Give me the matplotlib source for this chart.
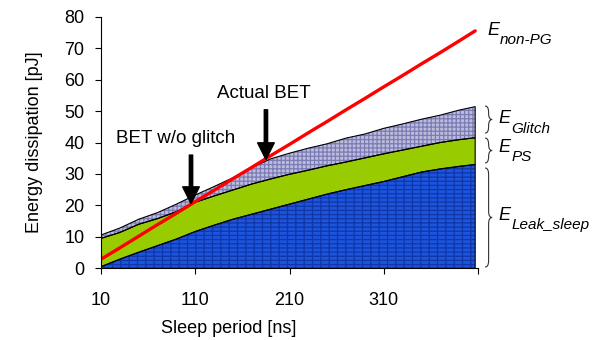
import matplotlib
matplotlib.use("Agg")
import matplotlib.pyplot as plt
import numpy as np
from matplotlib.path import Path
from matplotlib.patches import PathPatch

plt.rcParams["font.family"] = ["Liberation Sans", "DejaVu Sans"]
plt.rcParams["hatch.linewidth"] = 0.9

# sleep period [ns]
sleep_ns = [10, 30, 50, 70, 90, 110, 130, 150, 170, 190, 210,
            230, 250, 270, 290, 310, 330, 350, 370, 390, 407]
# stacked energy components [pJ]
e_leak = [0.5, 2.9, 5.1, 7.2, 9.3, 11.7, 13.7, 15.6, 17.2, 18.8, 20.4,
          22.0, 23.6, 25.0, 26.3, 27.6, 29.1, 30.6, 31.6, 32.4, 33.0]
e_ps = [9.0, 8.5, 8.9, 8.6, 8.7, 9.3, 9.3, 9.3, 9.6, 9.6, 9.5,
        9.2, 9.0, 8.8, 8.8, 8.8, 8.5, 8.2, 8.4, 8.5, 8.5]
e_glitch = [1.1, 1.4, 1.6, 1.9, 2.4, 2.3, 3.0, 3.9, 5.2, 6.4, 6.7,
            7.0, 7.0, 7.6, 7.6, 8.1, 8.3, 8.6, 8.7, 9.4, 9.9]
# energy without power gating [pJ]
e_non_pg = [2.9, 6.5, 10.2, 13.9, 17.5, 21.2, 24.8, 28.5, 32.1, 35.8, 39.4,
            43.1, 46.7, 50.4, 54.0, 57.7, 61.3, 65.0, 68.6, 72.3, 75.5]

x_ticks = [10, 110, 210, 310, 410]
x_tick_labels = ["10", "110", "210", "310", ""]
y_ticks = [0, 10, 20, 30, 40, 50, 60, 70, 80]


def brace(ax, y0, y1, x0, w):
    # right-pointing curly brace from y0 (bottom) to y1 (top)
    ym = (y0 + y1) / 2
    d = min(2.0, (y1 - y0) / 4)
    xm = x0 + w / 2
    verts = [(x0, y1), (xm, y1), (xm, y1 - d),
             (xm, ym + d),
             (xm, ym), (x0 + w, ym),
             (xm, ym), (xm, ym - d),
             (xm, y0 + d),
             (xm, y0), (x0, y0)]
    codes = [Path.MOVETO, Path.CURVE3, Path.CURVE3,
             Path.LINETO,
             Path.CURVE3, Path.CURVE3,
             Path.CURVE3, Path.CURVE3,
             Path.LINETO,
             Path.CURVE3, Path.CURVE3]
    ax.add_patch(PathPatch(Path(verts, codes), fill=False, lw=0.8,
                           edgecolor="#333333", clip_on=False))


def e_label(ax, x, y, sub):
    t = ax.text(x, y, "E", style="italic", fontsize=13, va="baseline",
                ha="left", clip_on=False)
    ax.annotate(sub, xy=(1, 0), xycoords=t, xytext=(0.5, -4),
                textcoords="offset points", style="italic", fontsize=11,
                va="baseline", ha="left", annotation_clip=False)


x = np.array(sleep_ns)
leak = np.array(e_leak)
ps_top = leak + np.array(e_ps)
gl_top = ps_top + np.array(e_glitch)

fig = plt.figure(figsize=(5.97, 3.40), dpi=100)
ax = fig.add_axes([101 / 597, 1 - 268.3 / 340, 377 / 597, 251.6 / 340])

# layers: face + hatch, then black outlines
ax.fill_between(x, 0, leak, facecolor="#1c54dc", edgecolor="#1036a8",
                hatch="----||", lw=0)
ax.fill_between(x, leak, ps_top, facecolor="#99cc00", lw=0)
ax.fill_between(x, ps_top, gl_top, facecolor="#bcbcde", edgecolor="#7c7cb4",
                hatch="++++", lw=0)
for lo, hi in [(0 * leak, leak), (leak, ps_top), (ps_top, gl_top)]:
    ax.fill_between(x, lo, hi, facecolor="none", edgecolor="black", lw=0.8)

ax.plot(x, e_non_pg, color="#ff0000", lw=2.4, solid_capstyle="round")

# BET arrows
arrow = dict(arrowstyle="simple,head_length=0.6,head_width=0.6,tail_width=0.12",
             mutation_scale=20, color="black", shrinkA=0, shrinkB=0)
ax.annotate("", xy=(185, 34.6), xytext=(185, 50.4), arrowprops=arrow)
ax.annotate("", xy=(105.5, 20.6), xytext=(105.5, 36.0), arrowprops=arrow)
ax.text(133, 54.1, "Actual BET", fontsize=13.5, va="baseline", ha="left")
ax.text(26, 39.7, "BET w/o glitch", fontsize=13.5, va="baseline", ha="left")

# component labels on the right
brace(ax, 43.0, 51.6, 417.5, 7.5)
brace(ax, 33.5, 41.4, 417.5, 7.5)
brace(ax, 0.4, 31.9, 417.5, 7.5)
e_label(ax, 419.5, 74.2, "non-PG")
e_label(ax, 432, 46.2, "Glitch")
e_label(ax, 432, 37.0, "PS")
e_label(ax, 432, 15.4, "Leak_sleep")

ax.set_xlim(10, 410)
ax.set_ylim(0, 80)
ax.set_xticks(x_ticks)
ax.set_xticklabels(x_tick_labels)
ax.set_yticks(y_ticks)
ax.spines["top"].set_visible(False)
ax.spines["right"].set_visible(False)
ax.tick_params(axis="x", direction="out", length=4, pad=13, labelsize=13)
ax.tick_params(axis="y", direction="out", length=4, pad=8, labelsize=13)

ax.set_xlabel("Sleep period [ns]", fontsize=13)
ax.xaxis.set_label_coords(0.34, -0.205)
ax.set_ylabel("Energy dissipation [pJ]", fontsize=13)
ax.yaxis.set_label_coords(-0.155, 0.5)

fig.savefig("out.png", dpi=100)
